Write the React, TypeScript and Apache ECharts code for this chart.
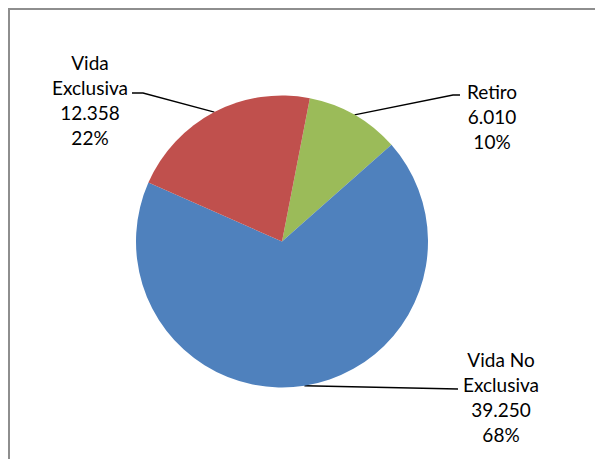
import React, { useEffect, useRef } from "react";
import * as echarts from "echarts";

const CATEGORIES = ["Retiro", "Vida No Exclusiva", "Vida Exclusiva"];
const VALUES = [6010, 39250, 12358];
const COLORS = ["#9BBB59", "#4F81BD", "#C0504D"];

const fmtThousands = (v: number) =>
  String(v).replace(/\B(?=(\d{3})+(?!\d))/g, ".");

// label anchor (center x, top y) and leader-line end/knee offsets from it
const LABEL_LAYOUT = [
  { x: 492, y: 79, end: [-32, 16], knee: [-39, 16] },
  { x: 501, y: 347, end: [-43, 42], knee: [-43, 42] },
  { x: 90, y: 50, end: [42, 43], knee: [53, 43] },
];

export default function App() {
  const ref = useRef<HTMLDivElement>(null);
  useEffect(() => {
    if (!ref.current) return;
    const chart = echarts.init(ref.current, null, { renderer: "svg" });
    chart.setOption({
      animation: false,
      backgroundColor: "#ffffff",
      graphic: [
        {
          type: "rect",
          shape: { x: 9, y: 9, width: 800, height: 800 },
          style: { fill: "none", stroke: "#8e8e8e", lineWidth: 2 },
          silent: true,
        },
      ],
      series: [
        {
          type: "pie",
          center: [282, 241.5],
          radius: 146,
          startAngle: 79,
          clockwise: true,
          percentPrecision: 0,
          avoidLabelOverlap: false,
          itemStyle: { borderWidth: 0 },
          data: CATEGORIES.map((name, i) => ({
            name,
            value: VALUES[i],
            itemStyle: { color: COLORS[i] },
          })),
          label: {
            show: true,
            position: "outside",
            fontFamily: "Lato",
            fontSize: 19,
            lineHeight: 25,
            color: "#000000",
            formatter: (p: any) =>
              `${p.name.replace(/ (\S+)$/, "\n$1")}\n${fmtThousands(p.value)}\n${p.percent}%`,
          },
          labelLine: {
            show: true,
            lineStyle: { color: "#000000", width: 1.3 },
          },
          labelLayout: (params: any) => {
            const L = LABEL_LAYOUT[params.dataIndex];
            const start = params.labelLinePoints
              ? params.labelLinePoints[0]
              : [0, 0];
            return {
              x: L.x,
              y: L.y,
              align: "center",
              verticalAlign: "top",
              labelLinePoints: [
                start,
                [L.x + L.knee[0], L.y + L.knee[1]],
                [L.x + L.end[0], L.y + L.end[1]],
              ],
            };
          },
        },
      ],
    });
    return () => chart.dispose();
  }, []);
  return (
    <div
      ref={ref}
      style={{
        position: "absolute",
        left: 0,
        top: 0,
        width: 595,
        height: 459,
        background: "#fff",
      }}
    />
  );
}
